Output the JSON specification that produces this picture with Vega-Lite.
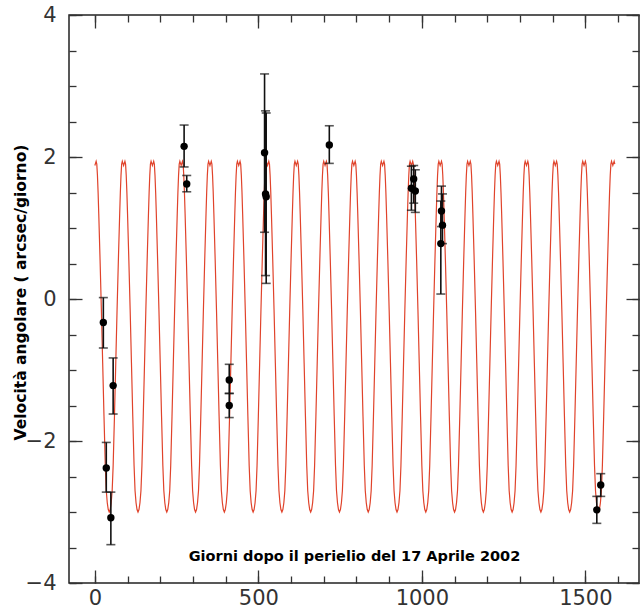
{
"$schema": "https://vega.github.io/schema/vega-lite/v6.json",
"width": 570, "height": 568,
"autosize": "none",
"padding": {"left": 69, "top": 15, "right": 5, "bottom": 33},
"background": "white",
"config": {
 "view": {"stroke": "#222", "strokeWidth": 1.5},
 "axis": {"domain": false, "grid": false, "labelFont": "DejaVu Sans", "labelFontSize": 21, "labelColor": "#333", "tickColor": "#333", "tickWidth": 1.3, "titleFont": "DejaVu Sans", "titleFontWeight": "bold", "titleFontSize": 14.5, "titleColor": "#000", "labelFlush": false, "labelOverlap": false, "labelBound": false}
},
"datasets": {
"curve": [
{"t":0,"v":1.88},{"t":2,"v":1.91},{"t":4,"v":1.94},{"t":6,"v":1.90},{"t":8,"v":1.74},{"t":10,"v":1.50},{"t":12,"v":1.20},{"t":16,"v":0.55},{"t":20,"v":-0.15},{"t":24,"v":-0.90},{"t":28,"v":-1.65},{"t":32,"v":-2.35},{"t":35,"v":-2.70},{"t":38,"v":-2.87},{"t":41,"v":-2.965},{"t":44,"v":-3.0},{"t":47,"v":-2.965},{"t":50,"v":-2.87},{"t":53,"v":-2.70},{"t":56,"v":-2.35},{"t":60,"v":-1.65},{"t":64,"v":-0.90},{"t":68,"v":-0.15},{"t":72,"v":0.55},{"t":76,"v":1.20},{"t":78,"v":1.50},{"t":80,"v":1.74},{"t":82,"v":1.90},{"t":84,"v":1.94},{"t":86,"v":1.91},
{"t":88,"v":1.88},{"t":90,"v":1.91},{"t":92,"v":1.94},{"t":94,"v":1.90},{"t":96,"v":1.74},{"t":98,"v":1.50},{"t":100,"v":1.20},{"t":104,"v":0.55},{"t":108,"v":-0.15},{"t":112,"v":-0.90},{"t":116,"v":-1.65},{"t":120,"v":-2.35},{"t":123,"v":-2.70},{"t":126,"v":-2.87},{"t":129,"v":-2.965},{"t":132,"v":-3.0},{"t":135,"v":-2.965},{"t":138,"v":-2.87},{"t":141,"v":-2.70},{"t":144,"v":-2.35},{"t":148,"v":-1.65},{"t":152,"v":-0.90},{"t":156,"v":-0.15},{"t":160,"v":0.55},{"t":164,"v":1.20},{"t":166,"v":1.50},{"t":168,"v":1.74},{"t":170,"v":1.90},{"t":172,"v":1.94},{"t":174,"v":1.91},
{"t":176,"v":1.88},{"t":178,"v":1.91},{"t":180,"v":1.94},{"t":182,"v":1.90},{"t":184,"v":1.74},{"t":186,"v":1.50},{"t":188,"v":1.20},{"t":192,"v":0.55},{"t":196,"v":-0.15},{"t":200,"v":-0.90},{"t":204,"v":-1.65},{"t":208,"v":-2.35},{"t":211,"v":-2.70},{"t":214,"v":-2.87},{"t":217,"v":-2.965},{"t":220,"v":-3.0},{"t":223,"v":-2.965},{"t":226,"v":-2.87},{"t":229,"v":-2.70},{"t":232,"v":-2.35},{"t":236,"v":-1.65},{"t":240,"v":-0.90},{"t":244,"v":-0.15},{"t":248,"v":0.55},{"t":252,"v":1.20},{"t":254,"v":1.50},{"t":256,"v":1.74},{"t":258,"v":1.90},{"t":260,"v":1.94},{"t":262,"v":1.91},
{"t":264,"v":1.88},{"t":266,"v":1.91},{"t":268,"v":1.94},{"t":270,"v":1.90},{"t":272,"v":1.74},{"t":274,"v":1.50},{"t":276,"v":1.20},{"t":280,"v":0.55},{"t":284,"v":-0.15},{"t":288,"v":-0.90},{"t":292,"v":-1.65},{"t":296,"v":-2.35},{"t":299,"v":-2.70},{"t":302,"v":-2.87},{"t":305,"v":-2.965},{"t":308,"v":-3.0},{"t":311,"v":-2.965},{"t":314,"v":-2.87},{"t":317,"v":-2.70},{"t":320,"v":-2.35},{"t":324,"v":-1.65},{"t":328,"v":-0.90},{"t":332,"v":-0.15},{"t":336,"v":0.55},{"t":340,"v":1.20},{"t":342,"v":1.50},{"t":344,"v":1.74},{"t":346,"v":1.90},{"t":348,"v":1.94},{"t":350,"v":1.91},
{"t":352,"v":1.88},{"t":354,"v":1.91},{"t":356,"v":1.94},{"t":358,"v":1.90},{"t":360,"v":1.74},{"t":362,"v":1.50},{"t":364,"v":1.20},{"t":368,"v":0.55},{"t":372,"v":-0.15},{"t":376,"v":-0.90},{"t":380,"v":-1.65},{"t":384,"v":-2.35},{"t":387,"v":-2.70},{"t":390,"v":-2.87},{"t":393,"v":-2.965},{"t":396,"v":-3.0},{"t":399,"v":-2.965},{"t":402,"v":-2.87},{"t":405,"v":-2.70},{"t":408,"v":-2.35},{"t":412,"v":-1.65},{"t":416,"v":-0.90},{"t":420,"v":-0.15},{"t":424,"v":0.55},{"t":428,"v":1.20},{"t":430,"v":1.50},{"t":432,"v":1.74},{"t":434,"v":1.90},{"t":436,"v":1.94},{"t":438,"v":1.91},
{"t":440,"v":1.88},{"t":442,"v":1.91},{"t":444,"v":1.94},{"t":446,"v":1.90},{"t":448,"v":1.74},{"t":450,"v":1.50},{"t":452,"v":1.20},{"t":456,"v":0.55},{"t":460,"v":-0.15},{"t":464,"v":-0.90},{"t":468,"v":-1.65},{"t":472,"v":-2.35},{"t":475,"v":-2.70},{"t":478,"v":-2.87},{"t":481,"v":-2.965},{"t":484,"v":-3.0},{"t":487,"v":-2.965},{"t":490,"v":-2.87},{"t":493,"v":-2.70},{"t":496,"v":-2.35},{"t":500,"v":-1.65},{"t":504,"v":-0.90},{"t":508,"v":-0.15},{"t":512,"v":0.55},{"t":516,"v":1.20},{"t":518,"v":1.50},{"t":520,"v":1.74},{"t":522,"v":1.90},{"t":524,"v":1.94},{"t":526,"v":1.91},
{"t":528,"v":1.88},{"t":530,"v":1.91},{"t":532,"v":1.94},{"t":534,"v":1.90},{"t":536,"v":1.74},{"t":538,"v":1.50},{"t":540,"v":1.20},{"t":544,"v":0.55},{"t":548,"v":-0.15},{"t":552,"v":-0.90},{"t":556,"v":-1.65},{"t":560,"v":-2.35},{"t":563,"v":-2.70},{"t":566,"v":-2.87},{"t":569,"v":-2.965},{"t":572,"v":-3.0},{"t":575,"v":-2.965},{"t":578,"v":-2.87},{"t":581,"v":-2.70},{"t":584,"v":-2.35},{"t":588,"v":-1.65},{"t":592,"v":-0.90},{"t":596,"v":-0.15},{"t":600,"v":0.55},{"t":604,"v":1.20},{"t":606,"v":1.50},{"t":608,"v":1.74},{"t":610,"v":1.90},{"t":612,"v":1.94},{"t":614,"v":1.91},
{"t":616,"v":1.88},{"t":618,"v":1.91},{"t":620,"v":1.94},{"t":622,"v":1.90},{"t":624,"v":1.74},{"t":626,"v":1.50},{"t":628,"v":1.20},{"t":632,"v":0.55},{"t":636,"v":-0.15},{"t":640,"v":-0.90},{"t":644,"v":-1.65},{"t":648,"v":-2.35},{"t":651,"v":-2.70},{"t":654,"v":-2.87},{"t":657,"v":-2.965},{"t":660,"v":-3.0},{"t":663,"v":-2.965},{"t":666,"v":-2.87},{"t":669,"v":-2.70},{"t":672,"v":-2.35},{"t":676,"v":-1.65},{"t":680,"v":-0.90},{"t":684,"v":-0.15},{"t":688,"v":0.55},{"t":692,"v":1.20},{"t":694,"v":1.50},{"t":696,"v":1.74},{"t":698,"v":1.90},{"t":700,"v":1.94},{"t":702,"v":1.91},
{"t":704,"v":1.88},{"t":706,"v":1.91},{"t":708,"v":1.94},{"t":710,"v":1.90},{"t":712,"v":1.74},{"t":714,"v":1.50},{"t":716,"v":1.20},{"t":720,"v":0.55},{"t":724,"v":-0.15},{"t":728,"v":-0.90},{"t":732,"v":-1.65},{"t":736,"v":-2.35},{"t":739,"v":-2.70},{"t":742,"v":-2.87},{"t":745,"v":-2.965},{"t":748,"v":-3.0},{"t":751,"v":-2.965},{"t":754,"v":-2.87},{"t":757,"v":-2.70},{"t":760,"v":-2.35},{"t":764,"v":-1.65},{"t":768,"v":-0.90},{"t":772,"v":-0.15},{"t":776,"v":0.55},{"t":780,"v":1.20},{"t":782,"v":1.50},{"t":784,"v":1.74},{"t":786,"v":1.90},{"t":788,"v":1.94},{"t":790,"v":1.91},
{"t":792,"v":1.88},{"t":794,"v":1.91},{"t":796,"v":1.94},{"t":798,"v":1.90},{"t":800,"v":1.74},{"t":802,"v":1.50},{"t":804,"v":1.20},{"t":808,"v":0.55},{"t":812,"v":-0.15},{"t":816,"v":-0.90},{"t":820,"v":-1.65},{"t":824,"v":-2.35},{"t":827,"v":-2.70},{"t":830,"v":-2.87},{"t":833,"v":-2.965},{"t":836,"v":-3.0},{"t":839,"v":-2.965},{"t":842,"v":-2.87},{"t":845,"v":-2.70},{"t":848,"v":-2.35},{"t":852,"v":-1.65},{"t":856,"v":-0.90},{"t":860,"v":-0.15},{"t":864,"v":0.55},{"t":868,"v":1.20},{"t":870,"v":1.50},{"t":872,"v":1.74},{"t":874,"v":1.90},{"t":876,"v":1.94},{"t":878,"v":1.91},
{"t":880,"v":1.88},{"t":882,"v":1.91},{"t":884,"v":1.94},{"t":886,"v":1.90},{"t":888,"v":1.74},{"t":890,"v":1.50},{"t":892,"v":1.20},{"t":896,"v":0.55},{"t":900,"v":-0.15},{"t":904,"v":-0.90},{"t":908,"v":-1.65},{"t":912,"v":-2.35},{"t":915,"v":-2.70},{"t":918,"v":-2.87},{"t":921,"v":-2.965},{"t":924,"v":-3.0},{"t":927,"v":-2.965},{"t":930,"v":-2.87},{"t":933,"v":-2.70},{"t":936,"v":-2.35},{"t":940,"v":-1.65},{"t":944,"v":-0.90},{"t":948,"v":-0.15},{"t":952,"v":0.55},{"t":956,"v":1.20},{"t":958,"v":1.50},{"t":960,"v":1.74},{"t":962,"v":1.90},{"t":964,"v":1.94},{"t":966,"v":1.91},
{"t":968,"v":1.88},{"t":970,"v":1.91},{"t":972,"v":1.94},{"t":974,"v":1.90},{"t":976,"v":1.74},{"t":978,"v":1.50},{"t":980,"v":1.20},{"t":984,"v":0.55},{"t":988,"v":-0.15},{"t":992,"v":-0.90},{"t":996,"v":-1.65},{"t":1000,"v":-2.35},{"t":1003,"v":-2.70},{"t":1006,"v":-2.87},{"t":1009,"v":-2.965},{"t":1012,"v":-3.0},{"t":1015,"v":-2.965},{"t":1018,"v":-2.87},{"t":1021,"v":-2.70},{"t":1024,"v":-2.35},{"t":1028,"v":-1.65},{"t":1032,"v":-0.90},{"t":1036,"v":-0.15},{"t":1040,"v":0.55},{"t":1044,"v":1.20},{"t":1046,"v":1.50},{"t":1048,"v":1.74},{"t":1050,"v":1.90},{"t":1052,"v":1.94},{"t":1054,"v":1.91},
{"t":1056,"v":1.88},{"t":1058,"v":1.91},{"t":1060,"v":1.94},{"t":1062,"v":1.90},{"t":1064,"v":1.74},{"t":1066,"v":1.50},{"t":1068,"v":1.20},{"t":1072,"v":0.55},{"t":1076,"v":-0.15},{"t":1080,"v":-0.90},{"t":1084,"v":-1.65},{"t":1088,"v":-2.35},{"t":1091,"v":-2.70},{"t":1094,"v":-2.87},{"t":1097,"v":-2.965},{"t":1100,"v":-3.0},{"t":1103,"v":-2.965},{"t":1106,"v":-2.87},{"t":1109,"v":-2.70},{"t":1112,"v":-2.35},{"t":1116,"v":-1.65},{"t":1120,"v":-0.90},{"t":1124,"v":-0.15},{"t":1128,"v":0.55},{"t":1132,"v":1.20},{"t":1134,"v":1.50},{"t":1136,"v":1.74},{"t":1138,"v":1.90},{"t":1140,"v":1.94},{"t":1142,"v":1.91},
{"t":1144,"v":1.88},{"t":1146,"v":1.91},{"t":1148,"v":1.94},{"t":1150,"v":1.90},{"t":1152,"v":1.74},{"t":1154,"v":1.50},{"t":1156,"v":1.20},{"t":1160,"v":0.55},{"t":1164,"v":-0.15},{"t":1168,"v":-0.90},{"t":1172,"v":-1.65},{"t":1176,"v":-2.35},{"t":1179,"v":-2.70},{"t":1182,"v":-2.87},{"t":1185,"v":-2.965},{"t":1188,"v":-3.0},{"t":1191,"v":-2.965},{"t":1194,"v":-2.87},{"t":1197,"v":-2.70},{"t":1200,"v":-2.35},{"t":1204,"v":-1.65},{"t":1208,"v":-0.90},{"t":1212,"v":-0.15},{"t":1216,"v":0.55},{"t":1220,"v":1.20},{"t":1222,"v":1.50},{"t":1224,"v":1.74},{"t":1226,"v":1.90},{"t":1228,"v":1.94},{"t":1230,"v":1.91},
{"t":1232,"v":1.88},{"t":1234,"v":1.91},{"t":1236,"v":1.94},{"t":1238,"v":1.90},{"t":1240,"v":1.74},{"t":1242,"v":1.50},{"t":1244,"v":1.20},{"t":1248,"v":0.55},{"t":1252,"v":-0.15},{"t":1256,"v":-0.90},{"t":1260,"v":-1.65},{"t":1264,"v":-2.35},{"t":1267,"v":-2.70},{"t":1270,"v":-2.87},{"t":1273,"v":-2.965},{"t":1276,"v":-3.0},{"t":1279,"v":-2.965},{"t":1282,"v":-2.87},{"t":1285,"v":-2.70},{"t":1288,"v":-2.35},{"t":1292,"v":-1.65},{"t":1296,"v":-0.90},{"t":1300,"v":-0.15},{"t":1304,"v":0.55},{"t":1308,"v":1.20},{"t":1310,"v":1.50},{"t":1312,"v":1.74},{"t":1314,"v":1.90},{"t":1316,"v":1.94},{"t":1318,"v":1.91},
{"t":1320,"v":1.88},{"t":1322,"v":1.91},{"t":1324,"v":1.94},{"t":1326,"v":1.90},{"t":1328,"v":1.74},{"t":1330,"v":1.50},{"t":1332,"v":1.20},{"t":1336,"v":0.55},{"t":1340,"v":-0.15},{"t":1344,"v":-0.90},{"t":1348,"v":-1.65},{"t":1352,"v":-2.35},{"t":1355,"v":-2.70},{"t":1358,"v":-2.87},{"t":1361,"v":-2.965},{"t":1364,"v":-3.0},{"t":1367,"v":-2.965},{"t":1370,"v":-2.87},{"t":1373,"v":-2.70},{"t":1376,"v":-2.35},{"t":1380,"v":-1.65},{"t":1384,"v":-0.90},{"t":1388,"v":-0.15},{"t":1392,"v":0.55},{"t":1396,"v":1.20},{"t":1398,"v":1.50},{"t":1400,"v":1.74},{"t":1402,"v":1.90},{"t":1404,"v":1.94},{"t":1406,"v":1.91},
{"t":1408,"v":1.88},{"t":1410,"v":1.91},{"t":1412,"v":1.94},{"t":1414,"v":1.90},{"t":1416,"v":1.74},{"t":1418,"v":1.50},{"t":1420,"v":1.20},{"t":1424,"v":0.55},{"t":1428,"v":-0.15},{"t":1432,"v":-0.90},{"t":1436,"v":-1.65},{"t":1440,"v":-2.35},{"t":1443,"v":-2.70},{"t":1446,"v":-2.87},{"t":1449,"v":-2.965},{"t":1452,"v":-3.0},{"t":1455,"v":-2.965},{"t":1458,"v":-2.87},{"t":1461,"v":-2.70},{"t":1464,"v":-2.35},{"t":1468,"v":-1.65},{"t":1472,"v":-0.90},{"t":1476,"v":-0.15},{"t":1480,"v":0.55},{"t":1484,"v":1.20},{"t":1486,"v":1.50},{"t":1488,"v":1.74},{"t":1490,"v":1.90},{"t":1492,"v":1.94},{"t":1494,"v":1.91},
{"t":1496,"v":1.88},{"t":1498,"v":1.91},{"t":1500,"v":1.94},{"t":1502,"v":1.90},{"t":1504,"v":1.74},{"t":1506,"v":1.50},{"t":1508,"v":1.20},{"t":1512,"v":0.55},{"t":1516,"v":-0.15},{"t":1520,"v":-0.90},{"t":1524,"v":-1.65},{"t":1528,"v":-2.35},{"t":1531,"v":-2.70},{"t":1534,"v":-2.87},{"t":1537,"v":-2.965},{"t":1540,"v":-3.0},{"t":1543,"v":-2.965},{"t":1546,"v":-2.87},{"t":1549,"v":-2.70},{"t":1552,"v":-2.35},{"t":1556,"v":-1.65},{"t":1560,"v":-0.90},{"t":1564,"v":-0.15},{"t":1568,"v":0.55},{"t":1572,"v":1.20},{"t":1574,"v":1.50},{"t":1576,"v":1.74},{"t":1578,"v":1.90},{"t":1580,"v":1.94},{"t":1582,"v":1.91},
{"t":1584,"v":1.88},{"t":1586,"v":1.91},{"t":1588,"v":1.94},{"t":1590,"v":1.90}
],
"obs": [
{"t":26,"v":-0.33,"lo":-0.69,"hi":0.02},
{"t":56,"v":-1.22,"lo":-1.62,"hi":-0.83},
{"t":35,"v":-2.38,"lo":-2.72,"hi":-2.02},
{"t":49,"v":-3.08,"lo":-3.46,"hi":-2.72},
{"t":273,"v":2.15,"lo":1.86,"hi":2.45},
{"t":281,"v":1.62,"lo":1.51,"hi":1.74},
{"t":411,"v":-1.14,"lo":-1.33,"hi":-0.92},
{"t":411,"v":-1.50,"lo":-1.67,"hi":-1.33},
{"t":519,"v":2.06,"lo":0.94,"hi":3.17},
{"t":522,"v":1.48,"lo":0.33,"hi":2.65},
{"t":524,"v":1.44,"lo":0.22,"hi":2.62},
{"t":717,"v":2.17,"lo":1.91,"hi":2.44},
{"t":968,"v":1.56,"lo":1.25,"hi":1.87},
{"t":975,"v":1.69,"lo":1.35,"hi":1.88},
{"t":980,"v":1.52,"lo":1.22,"hi":1.82},
{"t":1060,"v":1.24,"lo":1.02,"hi":1.59},
{"t":1063,"v":1.04,"lo":0.78,"hi":1.48},
{"t":1058,"v":0.78,"lo":0.07,"hi":1.38},
{"t":1535,"v":-2.97,"lo":-3.16,"hi":-2.78},
{"t":1547,"v":-2.62,"lo":-2.78,"hi":-2.46}
]
},
"resolve": {"axis": {"x": "independent", "y": "independent"}},
"layer": [
{"data": {"name": "curve"},
 "mark": {"type": "line", "color": "#e0432b", "strokeWidth": 1.2},
 "encoding": {
  "x": {"field": "t", "type": "quantitative", "scale": {"domain": [-79, 1664], "nice": false, "zero": false},
        "axis": {"orient": "bottom", "values": [0, 500, 1000, 1500], "format": "d", "tickSize": -13, "labelPadding": 17, "title": "Giorni dopo il perielio del 17 Aprile 2002", "titleY": -27, "titleBaseline": "middle", "titleAlign": "center"}},
  "y": {"field": "v", "type": "quantitative", "scale": {"domain": [-4, 4], "nice": false, "zero": false},
        "axis": {"orient": "left", "values": [-4, -2, 0, 2, 4], "format": "d", "tickSize": -13, "labelPadding": 26, "title": "Velocità angolare ( arcsec/giorno)", "titleX": -49, "titleY": 277, "titleAlign": "center", "titleBaseline": "middle", "titleAngle": -90, "titleFontSize": 15.5}}
 }},
{"data": {"name": "obs"},
 "mark": {"type": "rule", "color": "#111", "strokeWidth": 1.6},
 "encoding": {
  "x": {"field": "t", "type": "quantitative", "axis": {"orient": "bottom", "values": [0,100,200,300,400,500,600,700,800,900,1000,1100,1200,1300,1400,1500,1600], "tickSize": -7, "labels": false, "title": null}},
  "y": {"field": "lo", "type": "quantitative", "axis": {"orient": "left", "values": [-4,-3.5,-3,-2.5,-2,-1.5,-1,-0.5,0,0.5,1,1.5,2,2.5,3,3.5,4], "tickSize": -7, "labels": false, "title": null}},
  "y2": {"field": "hi"}
 }},
{"data": {"name": "obs"},
 "mark": {"type": "tick", "orient": "horizontal", "size": 9, "thickness": 1.6, "color": "#111"},
 "encoding": {
  "x": {"field": "t", "type": "quantitative", "axis": {"orient": "top", "values": [0, 500, 1000, 1500], "tickSize": -13, "labels": false, "title": null}},
  "y": {"field": "lo", "type": "quantitative", "axis": {"orient": "right", "values": [-4, -2, 0, 2, 4], "tickSize": -13, "labels": false, "title": null}}
 }},
{"data": {"name": "obs"},
 "mark": {"type": "tick", "orient": "horizontal", "size": 9, "thickness": 1.6, "color": "#111"},
 "encoding": {
  "x": {"field": "t", "type": "quantitative", "axis": {"orient": "top", "values": [0,100,200,300,400,500,600,700,800,900,1000,1100,1200,1300,1400,1500,1600], "tickSize": -7, "labels": false, "title": null}},
  "y": {"field": "hi", "type": "quantitative", "axis": {"orient": "right", "values": [-4,-3.5,-3,-2.5,-2,-1.5,-1,-0.5,0,0.5,1,1.5,2,2.5,3,3.5,4], "tickSize": -7, "labels": false, "title": null}}
 }},
{"data": {"name": "obs"},
 "mark": {"type": "circle", "size": 55, "color": "#000", "opacity": 1},
 "encoding": {
  "x": {"field": "t", "type": "quantitative", "axis": null},
  "y": {"field": "v", "type": "quantitative", "axis": null}
 }}
]
}
